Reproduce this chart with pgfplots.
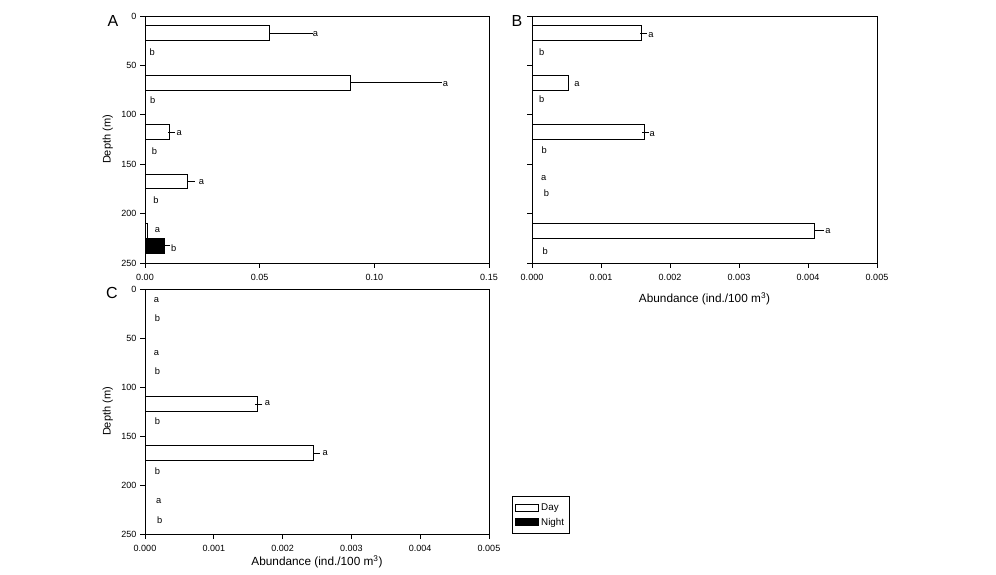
\documentclass[border=0pt]{standalone}
\usepackage{fontspec}
\setmainfont{Liberation Sans}
\usepackage{pgfplots}
\pgfplotsset{compat=1.18}
\tikzset{lt/.style={anchor=west, inner sep=0pt, font=\fontsize{9.3}{11}\selectfont}}
\pgfplotsset{
 panel/.style={
  scale only axis, width=344pt, height=247pt,
  y dir=reverse, ymin=0, ymax=250, ytick={0,50,100,150,200,250},
  xmin=0,
  tick align=outside, xtick pos=bottom, ytick pos=left,
  major tick length=5pt,
  axis line style={line width=0.8pt},
  tick style={line width=0.8pt, black},
  /pgf/number format/assume math mode=true,
  ticklabel style={font=\fontsize{9}{11}\selectfont},
  xticklabel style={yshift=-3pt},
  scaled x ticks=false,
  xbar, bar width=15, bar shift=0,
  every axis y label/.style={at={(rel axis cs:-0.108,0.5)}, rotate=90, anchor=center, font=\fontsize{11}{13}\selectfont},
 },
 day/.style={fill=white, draw=black, line width=0.8pt},
 dayerr/.style={fill=white, draw=black, line width=0.8pt,
   error bars/.cd, x dir=plus, x explicit, error mark=-,
   error bar style={line width=0.8pt, black},
   error mark options={line width=0.8pt, mark size=3.5pt, black}},
 nighterr/.style={fill=black, draw=black, line width=0.8pt,
   error bars/.cd, x dir=plus, x explicit, error mark=-,
   error bar style={line width=0.8pt, black},
   error mark options={line width=0.8pt, mark size=3.5pt, black}},
}
\begin{document}
\begin{tikzpicture}
\path[use as bounding box] (0,0) rectangle (996pt,575pt);
% Panel A
\begin{axis}[panel, at={(145pt,312pt)}, anchor=south west,
  xmax=0.15, xtick={0,0.05,0.10,0.15},
  xticklabel style={/pgf/number format/.cd, fixed, fixed zerofill, precision=2},
  ylabel={Depth (m)}]
\addplot[dayerr] coordinates {(0.0542,17.5) +- (0.0175,0) (0.0897,67.5) +- (0.0382,0) (0.0106,117.5) +- (0.0008,0) (0.0185,167.5) +- (0.0017,0)};
\addplot[day] coordinates {(0.0010,217.5)};
\addplot[nighterr] coordinates {(0.0083,232.5) +- (0.0009,0)};
\node[lt] at (axis cs:0.0731,18) {a};
\node[lt] at (axis cs:0.0019,37) {b};
\node[lt] at (axis cs:0.1298,68.7) {a};
\node[lt] at (axis cs:0.0022,85.6) {b};
\node[lt] at (axis cs:0.0137,118.9) {a};
\node[lt] at (axis cs:0.0029,137) {b};
\node[lt] at (axis cs:0.0234,167.8) {a};
\node[lt] at (axis cs:0.0036,186) {b};
\node[lt] at (axis cs:0.0042,216.6) {a};
\node[lt] at (axis cs:0.0113,235.2) {b};
\end{axis}
% Panel B
\begin{axis}[panel, at={(532pt,312pt)}, anchor=south west, width=345pt,
  xmax=0.005, xtick={0,0.001,0.002,0.003,0.004,0.005},
  xticklabel style={/pgf/number format/.cd, fixed, fixed zerofill, precision=3},
  yticklabels={},
  xlabel={Abundance (ind./100 m\textsuperscript{3})},
  every axis x label/.style={at={(rel axis cs:0.5,-0.146)}, anchor=center, font=\fontsize{11.8}{14}\selectfont}]
\addplot[dayerr] coordinates {(0.00159,17.5) +- (0.00002,0) (0.001626,117.5) +- (0.00002,0) (0.00409,217.5) +- (0.00009,0)};
\addplot[day] coordinates {(0.000532,67.5)};
\node[lt] at (axis cs:0.001684,18.9) {a};
\node[lt] at (axis cs:0.0001,36.4) {b};
\node[lt] at (axis cs:0.00061,69.2) {a};
\node[lt] at (axis cs:0.0001,84) {b};
\node[lt] at (axis cs:0.0017,119.4) {a};
\node[lt] at (axis cs:0.000136,136.3) {b};
\node[lt] at (axis cs:0.00013,164) {a};
\node[lt] at (axis cs:0.00017,179.8) {b};
\node[lt] at (axis cs:0.00425,218) {a};
\node[lt] at (axis cs:0.00015,238.5) {b};
\end{axis}
% Panel C
\begin{axis}[panel, at={(145pt,41pt)}, anchor=south west, height=245pt,
  xmax=0.005, xtick={0,0.001,0.002,0.003,0.004,0.005},
  xticklabel style={/pgf/number format/.cd, fixed, fixed zerofill, precision=3},
  ylabel={Depth (m)},
  xlabel={Abundance (ind./100 m\textsuperscript{3})},
  every axis x label/.style={at={(rel axis cs:0.5,-0.114)}, anchor=center, font=\fontsize{11.8}{14}\selectfont},
  legend image code/.code={\draw[#1, line width=0.8pt] (0pt,-3.5pt) rectangle (23pt,3.5pt);},
  legend style={at={(rel axis cs:1.067,0)}, anchor=south west, draw=black, line width=0.8pt,
    font=\fontsize{9.8}{11}\selectfont, row sep=2pt, inner xsep=3pt, inner ysep=5pt,
    cells={anchor=west}}]
\addplot[dayerr] coordinates {(0.001636,117.5) +- (0.00002,0) (0.00245,167.5) +- (0.00004,0)};
\addlegendentry{Day}
\addlegendimage{fill=black, draw=black}
\addlegendentry{Night}
\node[lt] at (axis cs:0.000126,11.2) {a};
\node[lt] at (axis cs:0.00014,29.9) {b};
\node[lt] at (axis cs:0.000126,65) {a};
\node[lt] at (axis cs:0.00014,83.6) {b};
\node[lt] at (axis cs:0.00174,116.8) {a};
\node[lt] at (axis cs:0.00014,135) {b};
\node[lt] at (axis cs:0.00258,167) {a};
\node[lt] at (axis cs:0.00014,186) {b};
\node[lt] at (axis cs:0.00016,216) {a};
\node[lt] at (axis cs:0.000174,235.7) {b};
\end{axis}
\node[font=\fontsize{16}{18}\selectfont] at (113pt,554pt) {A};
\node[font=\fontsize{16}{18}\selectfont] at (517pt,554pt) {B};
\node[font=\fontsize{16}{18}\selectfont] at (112pt,282pt) {C};
\end{tikzpicture}
\end{document}
